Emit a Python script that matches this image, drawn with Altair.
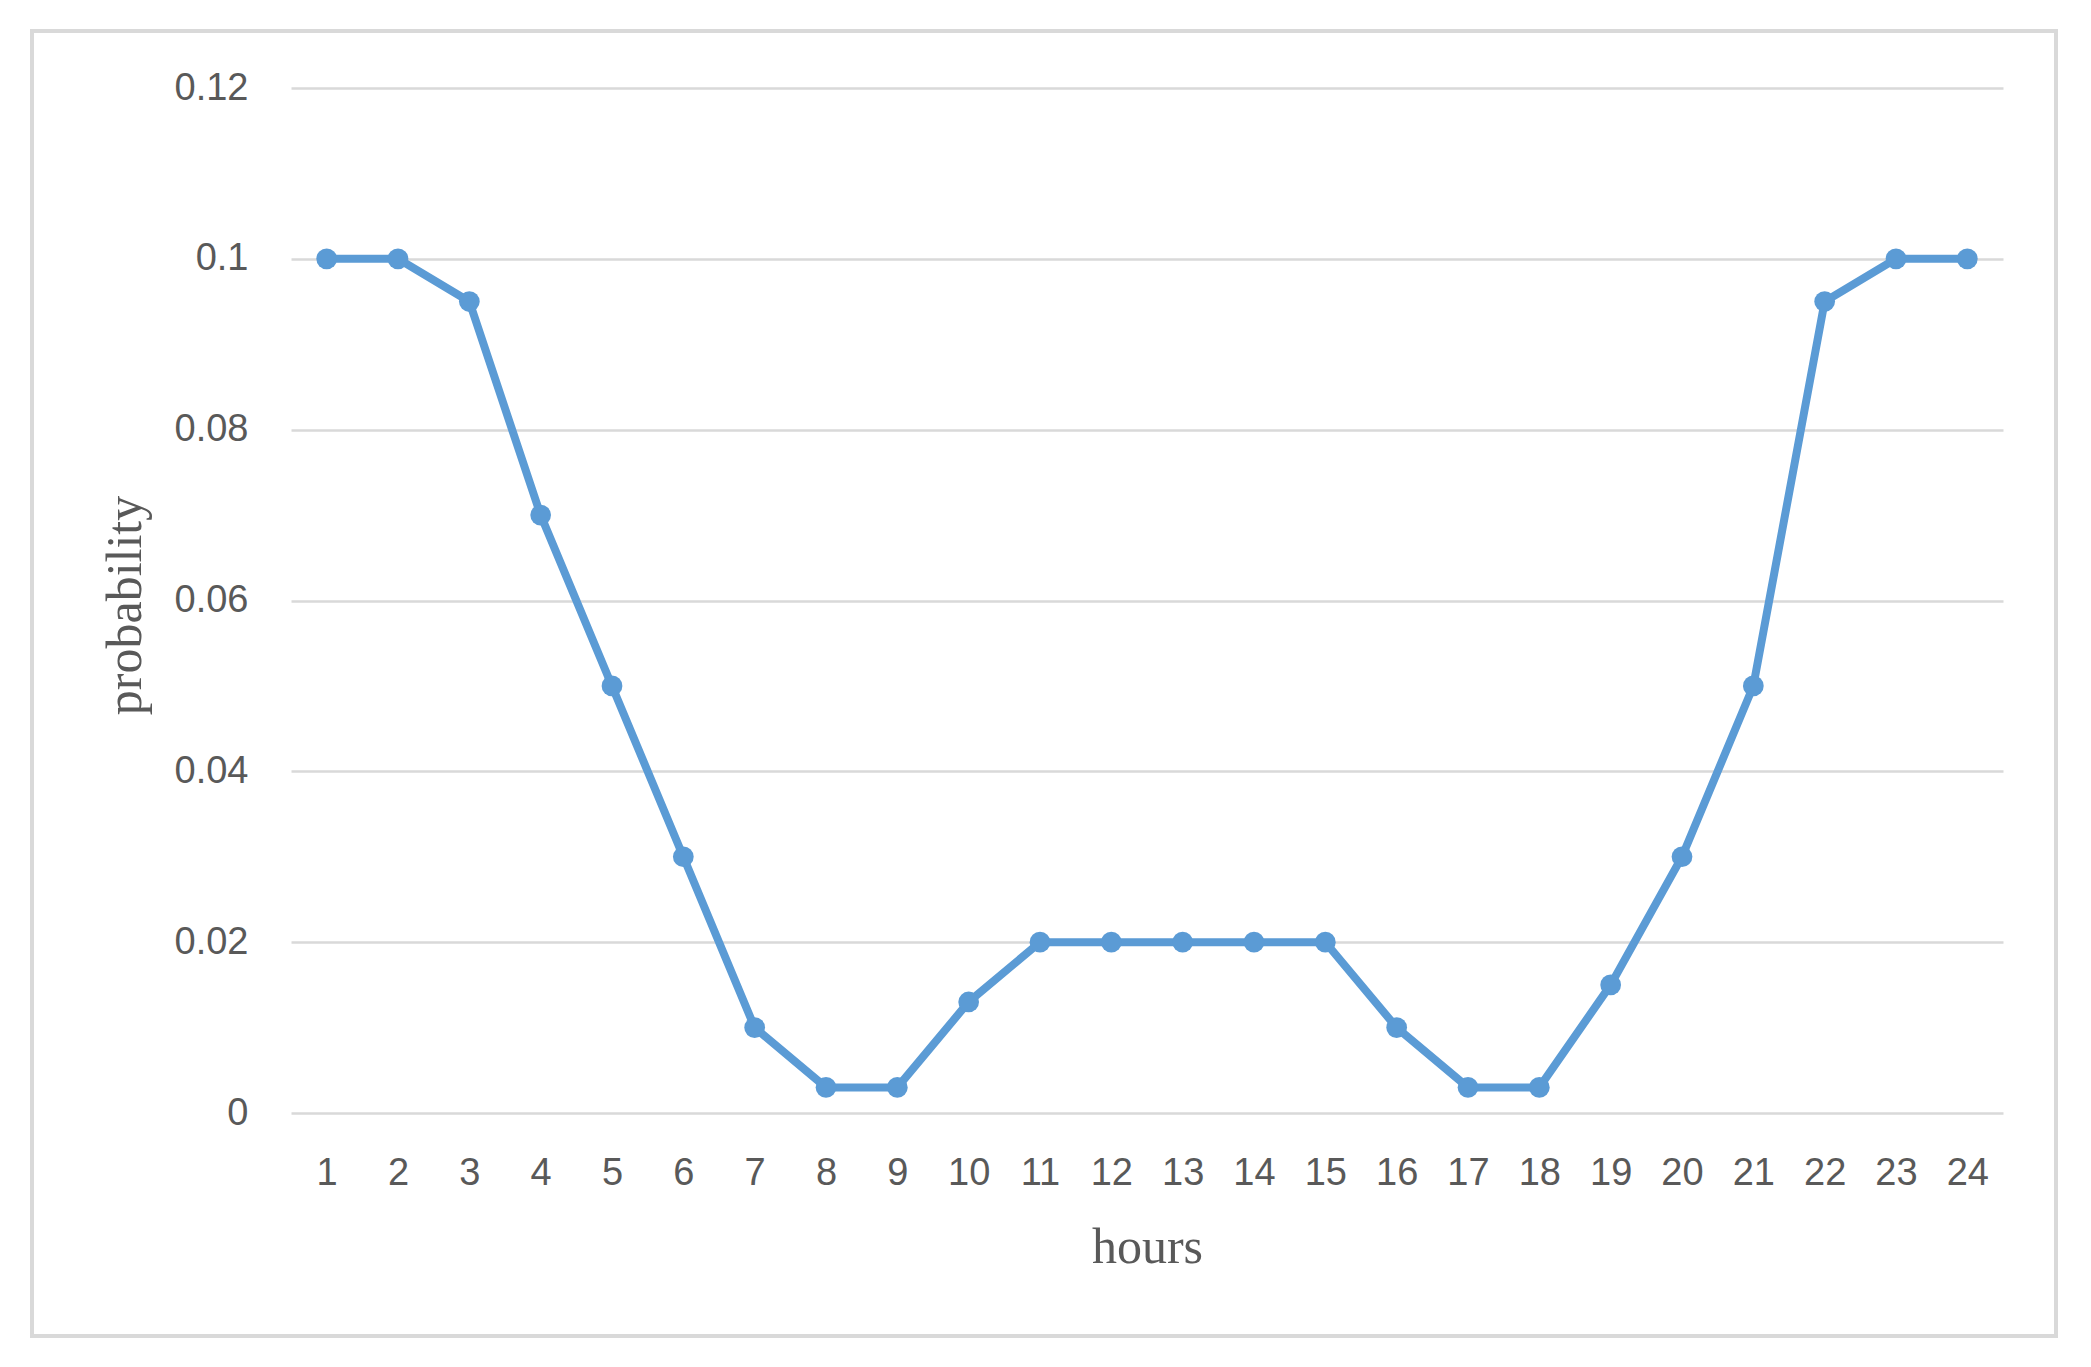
import altair as alt
import pandas as pd

hours = list(range(1, 25))
probability = [0.1, 0.1, 0.095, 0.07, 0.05, 0.03, 0.01, 0.003, 0.003, 0.013,
               0.02, 0.02, 0.02, 0.02, 0.02, 0.01, 0.003, 0.003, 0.015, 0.03,
               0.05, 0.095, 0.1, 0.1]
y_ticks = [0, 0.02, 0.04, 0.06, 0.08, 0.1, 0.12]

df = pd.DataFrame({"hours": hours, "probability": probability})

W, H = 1712, 1025
BLUE = "#5B9BD5"
TXT = "#595959"

x_enc = alt.X(
    "hours:O",
    sort=hours,
    scale=alt.Scale(type="point", padding=0.5),
    axis=alt.Axis(
        title="hours", labelAngle=0, ticks=False, tickSize=0, domain=False, grid=False,
        labelFont="Liberation Sans", labelFontSize=38, labelColor=TXT,
        labelBaseline="alphabetic", labelPadding=71,
        titleFont="Liberation Serif", titleFontSize=50, titleFontWeight="normal",
        titleColor=TXT, titleBaseline="alphabetic", titleY=149,
    ),
)
y_enc = alt.Y(
    "probability:Q",
    scale=alt.Scale(domain=[0, 0.12], nice=False),
    axis=alt.Axis(
        title="probability", values=y_ticks, ticks=False, tickSize=0, domain=False,
        grid=True, gridColor="#D9D9D9", gridWidth=2.5,
        labelFont="Liberation Sans", labelFontSize=38, labelColor=TXT, labelPadding=43,
        labelExpr="format(datum.value, '~g')",
        titleFont="Liberation Serif", titleFontSize=50, titleFontWeight="normal",
        titleColor=TXT, titleAngle=270, titleBaseline="alphabetic", titleX=-151, titleY=517,
    ),
)

line = alt.Chart(df).mark_line(color=BLUE, strokeWidth=8).encode(x=x_enc, y=y_enc)
points = alt.Chart(df).mark_point(filled=True, color=BLUE, size=430, opacity=1).encode(
    x=alt.X("hours:O", sort=hours), y="probability:Q"
)

frame = alt.Chart(pd.DataFrame({"a": [0]})).mark_rect(
    fill="transparent", stroke="#D9D9D9", strokeWidth=4, clip=False
).encode(
    x=alt.value(-259), x2=alt.value(1765), y=alt.value(-57), y2=alt.value(1248)
)

chart = alt.layer(frame, line, points).properties(
    width=W, height=H,
    autosize=alt.AutoSizeParams(type="none"),
    padding={"left": 283, "top": 80, "right": 70, "bottom": 240},
    background="white",
).configure_view(stroke=None)

chart.save("out.html", embed_options={"renderer": "svg", "actions": False})
